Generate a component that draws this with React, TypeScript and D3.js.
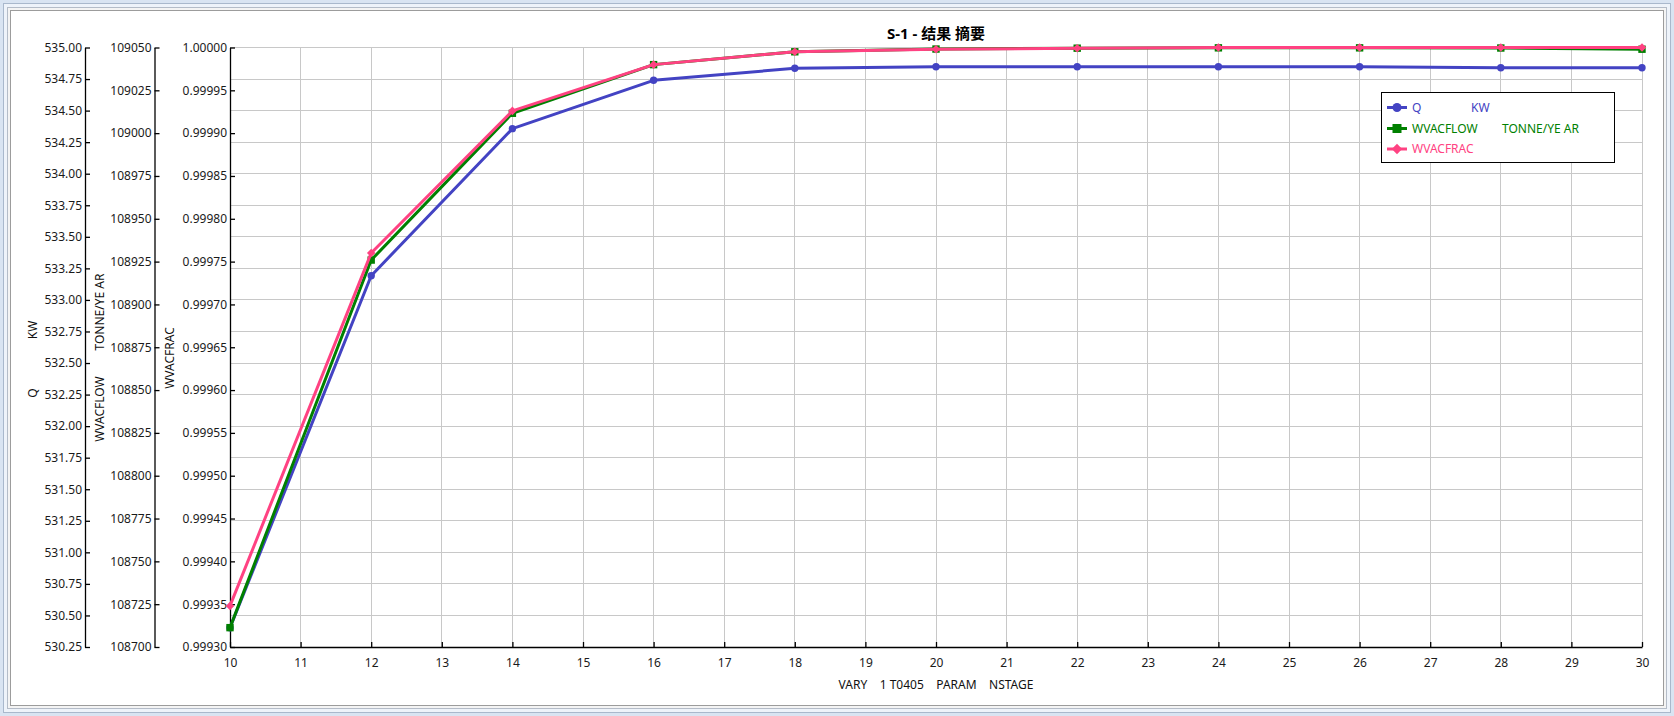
import React, { useEffect, useRef } from 'react';
import * as d3 from 'd3';

// NSTAGE values (x) and the three result series
const nstage = [10, 12, 14, 16, 18, 20, 22, 24, 26, 28, 30];
const qKw = [530.403, 533.192, 534.357, 534.74, 534.835, 534.848, 534.848, 534.848, 534.848, 534.84, 534.84];
const wvacflow = [108711.3, 108925.9, 109011.6, 109040.0, 109047.5, 109049.1, 109049.6, 109049.8, 109049.8, 109049.7, 109049.0];
const wvacfrac = [0.999348, 0.99976, 0.999926, 0.99998, 0.999995, 0.999998, 0.999999, 1.0, 1.0, 1.0, 1.0];

// axis ticks
const xTicks = [10, 11, 12, 13, 14, 15, 16, 17, 18, 19, 20, 21, 22, 23, 24, 25, 26, 27, 28, 29, 30];
const qTicks = [530.25, 530.5, 530.75, 531, 531.25, 531.5, 531.75, 532, 532.25, 532.5, 532.75, 533, 533.25, 533.5, 533.75, 534, 534.25, 534.5, 534.75, 535];
const flowTicks = [108700, 108725, 108750, 108775, 108800, 108825, 108850, 108875, 108900, 108925, 108950, 108975, 109000, 109025, 109050];
const fracTicks = [0.9993, 0.99935, 0.9994, 0.99945, 0.9995, 0.99955, 0.9996, 0.99965, 0.9997, 0.99975, 0.9998, 0.99985, 0.9999, 0.99995, 1.0];

const title = 'S-1 - 结果 摘要';
const xTitle = 'VARY    1 T0405    PARAM    NSTAGE';

const BLUE = '#4343c3';
const GREEN = '#008000';
const PINK = '#ff4282';
const FONT = '"Noto Sans", "Noto Sans CJK SC", sans-serif';

const W = 1674;
const H = 716;

const App: React.FC = () => {
    const svgRef = useRef<SVGSVGElement | null>(null);

    useEffect(() => {
        const svg = d3.select(svgRef.current);
        svg.selectAll('*').remove();

        const plot = { left: 230, right: 1642, top: 47.5, bottom: 647 };

        // window frame
        svg.append('rect').attr('width', W).attr('height', H).attr('fill', '#d9e4f2');
        svg.append('rect').attr('x', 3.5).attr('y', 3.5).attr('width', W - 7).attr('height', H - 7)
            .attr('fill', '#eef3fa').attr('stroke', '#a9b8cc');
        svg.append('rect').attr('x', 7.5).attr('y', 7.5).attr('width', W - 15).attr('height', H - 15)
            .attr('fill', '#f4f4f4').attr('stroke', '#b4bcc8');
        svg.append('rect').attr('x', 10.5).attr('y', 10.5).attr('width', W - 21).attr('height', H - 21)
            .attr('fill', '#ffffff').attr('stroke', '#9c9c9c');

        const x = d3.scaleLinear().domain([10, 30]).range([plot.left, plot.right]);
        const yQ = d3.scaleLinear().domain([530.25, 535]).range([plot.bottom, plot.top]);
        const yF = d3.scaleLinear().domain([108700, 109050]).range([plot.bottom, plot.top]);
        const yR = d3.scaleLinear().domain([0.9993, 1.0]).range([plot.bottom, plot.top]);

        // grid
        const grid = svg.append('g').attr('stroke', '#c8c8c8').attr('stroke-width', 1).attr('shape-rendering', 'crispEdges');
        grid.selectAll('line.h').data(qTicks).join('line').attr('class', 'h')
            .attr('x1', plot.left).attr('x2', plot.right)
            .attr('y1', d => yQ(d)).attr('y2', d => yQ(d));
        grid.selectAll('line.v').data(xTicks).join('line').attr('class', 'v')
            .attr('y1', plot.top).attr('y2', plot.bottom)
            .attr('x1', d => x(d)).attr('x2', d => x(d));

        const styleAxis = (g: d3.Selection<SVGGElement, unknown, null, undefined>) => {
            g.attr('font-family', FONT).attr('font-size', 12);
            g.selectAll('path').attr('stroke', '#000').attr('stroke-width', 1.3);
            g.selectAll('line').attr('stroke', '#000').attr('stroke-width', 1.3);
            g.selectAll('text').attr('fill', '#1a1a1a');
        };

        // left axes
        const axQ = svg.append('g').attr('transform', 'translate(85,0)')
            .call(d3.axisLeft(yQ).tickValues(qTicks).tickFormat(d3.format('.2f')).tickSizeInner(-5).tickSizeOuter(0).tickPadding(3));
        styleAxis(axQ);
        const axF = svg.append('g').attr('transform', 'translate(154.5,0)')
            .call(d3.axisLeft(yF).tickValues(flowTicks).tickFormat(d3.format('d')).tickSizeInner(-5).tickSizeOuter(0).tickPadding(3));
        styleAxis(axF);
        const axR = svg.append('g').attr('transform', `translate(${plot.left},0)`)
            .call(d3.axisLeft(yR).tickValues(fracTicks).tickFormat(d3.format('.5f')).tickSizeInner(-5).tickSizeOuter(0).tickPadding(3));
        styleAxis(axR);

        // bottom axis
        const axX = svg.append('g').attr('transform', `translate(0,${plot.bottom})`)
            .call(d3.axisBottom(x).tickValues(xTicks).tickFormat(d3.format('d')).tickSizeInner(-5).tickSizeOuter(0).tickPadding(11));
        styleAxis(axX);

        // axis titles
        const vText = (cx: number, cy: number, txt: string) => {
            svg.append('text')
                .attr('transform', `translate(${cx},${cy}) rotate(-90)`)
                .attr('text-anchor', 'middle').attr('dy', '0.35em')
                .attr('font-family', FONT).attr('font-size', 12).attr('fill', '#111')
                .text(txt);
        };
        vText(33, 393, 'Q');
        vText(33, 330, 'KW');
        vText(100, 312, 'TONNE/YE AR');
        vText(100, 409, 'WVACFLOW');
        vText(170, 358, 'WVACFRAC');

        svg.append('text')
            .attr('x', (plot.left + plot.right) / 2).attr('y', 689)
            .attr('text-anchor', 'middle')
            .attr('font-family', FONT).attr('font-size', 12).attr('fill', '#111')
            .style('white-space', 'pre')
            .text(xTitle);

        svg.append('text')
            .attr('x', (plot.left + plot.right) / 2).attr('y', 39)
            .attr('text-anchor', 'middle')
            .attr('font-family', FONT).attr('font-size', 15).attr('font-weight', 'bold').attr('fill', '#000')
            .text(title);

        // series
        const series = [
            { vals: qKw, y: yQ, color: BLUE, shape: 'circle' },
            { vals: wvacflow, y: yF, color: GREEN, shape: 'square' },
            { vals: wvacfrac, y: yR, color: PINK, shape: 'diamond' },
        ];

        const drawMarker = (g: d3.Selection<SVGGElement, unknown, null, undefined>, shape: string, cx: number, cy: number, s: number, color: string) => {
            if (shape === 'circle') {
                g.append('circle').attr('cx', cx).attr('cy', cy).attr('r', s).attr('fill', color);
            } else if (shape === 'square') {
                g.append('rect').attr('x', cx - s).attr('y', cy - s).attr('width', 2 * s).attr('height', 2 * s).attr('fill', color);
            } else {
                const d = s * 1.15;
                g.append('path').attr('d', `M${cx},${cy - d}L${cx + d},${cy}L${cx},${cy + d}L${cx - d},${cy}Z`).attr('fill', color);
            }
        };

        series.forEach(s => {
            const g = svg.append('g');
            const line = d3.line<number>()
                .x((_, i) => x(nstage[i]))
                .y(v => s.y(v));
            g.append('path').attr('d', line(s.vals)).attr('fill', 'none')
                .attr('stroke', s.color).attr('stroke-width', 3).attr('stroke-linejoin', 'round');
            s.vals.forEach((v, i) => drawMarker(g, s.shape, x(nstage[i]), s.y(v), 3.7, s.color));
        });

        // legend
        const leg = svg.append('g');
        leg.append('rect').attr('x', 1381.5).attr('y', 92.5).attr('width', 233).attr('height', 70)
            .attr('fill', '#fff').attr('stroke', '#000').attr('stroke-width', 1);
        const legendRows = [
            { name: 'Q', unit: 'KW', unitX: 1471, color: BLUE, shape: 'circle', y: 107.5 },
            { name: 'WVACFLOW', unit: 'TONNE/YE AR', unitX: 1502, color: GREEN, shape: 'square', y: 128.5 },
            { name: 'WVACFRAC', unit: '', unitX: 0, color: PINK, shape: 'diamond', y: 149 },
        ];
        legendRows.forEach(r => {
            leg.append('line').attr('x1', 1387).attr('x2', 1407).attr('y1', r.y).attr('y2', r.y)
                .attr('stroke', r.color).attr('stroke-width', 3);
            drawMarker(leg, r.shape, 1397, r.y, 4.5, r.color);
            leg.append('text').attr('x', 1412).attr('y', r.y).attr('dy', '0.35em')
                .attr('font-family', FONT).attr('font-size', 12).attr('fill', r.color).text(r.name);
            if (r.unit) {
                leg.append('text').attr('x', r.unitX).attr('y', r.y).attr('dy', '0.35em')
                    .attr('font-family', FONT).attr('font-size', 12).attr('fill', r.color).text(r.unit);
            }
        });
    }, []);

    return (
        <div style={{ position: 'absolute', left: 0, top: 0 }}>
            <svg ref={svgRef} width={W} height={H} style={{ display: 'block' }} />
        </div>
    );
};

export default App;
